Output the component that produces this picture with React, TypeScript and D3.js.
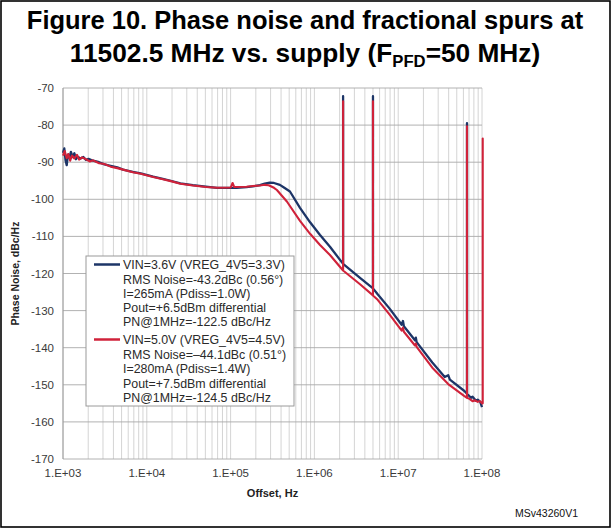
import React, { useEffect } from "react";
import * as d3 from "d3";

// ---------- data ----------
const X_TICKS = [1e3, 1e4, 1e5, 1e6, 1e7, 1e8];
const X_TICK_LABELS = ["1.E+03", "1.E+04", "1.E+05", "1.E+06", "1.E+07", "1.E+08"];
const Y_TICKS = [-70, -80, -90, -100, -110, -120, -130, -140, -150, -160, -170];

const NAVY_FREQ = [
  1000, 1036, 1072, 1108, 1144, 1193, 1243, 1305, 1367, 1430, 1493, 1621, 1750, 1882, 2014,
  2284, 2697, 3120, 3701, 4446, 5213, 6799, 8452, 10151, 11903, 15524, 19290, 25160, 35440,
  50670, 69020, 90650, 118200, 154900, 184800, 223900, 255400, 293500, 329400, 387500,
  437500, 510900, 673300, 888300, 1167000, 1534000, 3503000, 5690000, 7860000, 11000000,
  11400000, 11690000, 15850000, 16240000, 16600000, 25530000, 35920000, 39510000, 41370000,
  61140000, 73900000, 77200000, 84700000, 88900000, 95100000, 100000000,
];
const NAVY_PN = [
  -87.5, -86.3, -89.5, -90.8, -88.0, -88.8, -87.2, -88.6, -87.6, -89.2, -88.5, -89.0, -88.6,
  -89.4, -89.1, -89.6, -90.0, -90.6, -91.0, -91.4, -92.0, -92.6, -93.0, -93.5, -93.9, -94.5,
  -95.0, -95.7, -96.2, -96.6, -96.9, -96.9, -96.9, -96.7, -96.5, -96.2, -95.8, -95.5, -95.6,
  -96.1, -96.9, -97.9, -102.3, -106.2, -109.6, -112.8, -121.2, -125.6, -129.4, -133.8,
  -132.8, -134.2, -138.0, -137.3, -138.5, -144.0, -147.9, -147.4, -148.6, -151.6, -153.5,
  -153.2, -154.3, -154.0, -154.6, -156.0,
];

const RED_FREQ = [
  1000, 1048, 1108, 1157, 1218, 1280, 1367, 1467, 1557, 1685, 1882, 2080, 2284, 2697, 3120,
  3701, 4446, 5213, 6799, 8452, 10151, 11903, 15524, 19290, 25160, 35440, 50670, 69020,
  100500, 105600, 110600, 154900, 184800, 223900, 255400, 284600, 329400, 356700, 469300,
  673300, 888300, 1167000, 1534000, 3503000, 5690000, 7860000, 11000000, 11400000, 11690000,
  15850000, 16240000, 16600000, 25530000, 39510000, 61140000, 70900000, 77000000, 82700000,
  88900000, 94300000, 100000000,
];
const RED_PN = [
  -88.2, -87.0, -88.9, -87.8, -89.6, -88.2, -89.0, -88.0, -89.3, -88.7, -89.2, -89.8, -89.5,
  -90.3, -90.5, -91.2, -91.6, -92.0, -92.7, -93.1, -93.6, -94.0, -94.6, -95.1, -95.8, -96.3,
  -96.7, -96.9, -96.8, -95.6, -96.7, -96.6, -96.4, -96.3, -96.1, -96.2, -96.9, -97.5, -100.6,
  -105.8, -109.3, -112.3, -115.0, -122.9, -127.1, -131.0, -135.4, -134.6, -135.7, -139.4,
  -138.9, -139.8, -145.4, -149.8, -153.0, -153.8, -154.4, -154.2, -154.6, -154.4, -155.0,
];

// fractional / PFD spurs
const SPUR_FREQ = [2200000, 5000000, 66200000];
const NAVY_SPUR_BASE = [-117.4, -124.0, -152.4];
const NAVY_SPUR_TOP = [-72.2, -72.2, -79.5];
const RED_SPUR_BASE = [-119.2, -125.9, -153.5];
const RED_SPUR_TOP = [-73.6, -73.6, -80.3];
const RED_EXTRA_SPUR_FREQ = [102000000];
const RED_EXTRA_SPUR_BASE = [-155.0];
const RED_EXTRA_SPUR_TOP = [-83.6];

const LEGEND_NAVY = [
  "VIN=3.6V (VREG_4V5=3.3V)",
  "RMS Noise=-43.2dBc (0.56°)",
  "I=265mA (Pdiss=1.0W)",
  "Pout=+6.5dBm differential",
  "PN@1MHz=-122.5 dBc/Hz",
];
const LEGEND_RED = [
  "VIN=5.0V (VREG_4V5=4.5V)",
  "RMS Noise=–44.1dBc (0.51°)",
  "I=280mA (Pdiss=1.4W)",
  "Pout=+7.5dBm differential",
  "PN@1MHz=-124.5 dBc/Hz",
];

const NAVY = "#1d3567";
const RED = "#d0223a";
const FONT = "'Liberation Sans', Arial, Helvetica, sans-serif";

type Pt = [number, number];

function buildSeries(
  freq: number[],
  pn: number[],
  sf: number[],
  base: number[],
  top: number[]
): Pt[] {
  const pts: Pt[] = freq.map((f, i) => [f, pn[i]] as Pt);
  sf.forEach((f, i) => {
    pts.push([f, base[i]], [f, top[i]], [f, base[i]]);
  });
  return pts
    .map((p, i) => ({ p, i }))
    .sort((a, b) => a.p[0] - b.p[0] || a.i - b.i)
    .map((o) => o.p);
}

export default function App() {
  useEffect(() => {
    document.body.style.margin = "0";
  }, []);

  const W = 611;
  const H = 528;
  const left = 63;
  const right = 482;
  const top = 88;
  const bottom = 459;

  const x = d3.scaleLog().domain([1e3, 1e8]).range([left, right]);
  const y = d3.scaleLinear().domain([-170, -70]).range([bottom, top]);

  const minorX: number[] = [];
  for (let k = 3; k < 8; k++) {
    for (let m = 1; m <= 9; m++) minorX.push(m * Math.pow(10, k));
  }
  minorX.push(1e8);

  const navy = buildSeries(NAVY_FREQ, NAVY_PN, SPUR_FREQ, NAVY_SPUR_BASE, NAVY_SPUR_TOP);
  const red = buildSeries(
    RED_FREQ,
    RED_PN,
    SPUR_FREQ.concat(RED_EXTRA_SPUR_FREQ),
    RED_SPUR_BASE.concat(RED_EXTRA_SPUR_BASE),
    RED_SPUR_TOP.concat(RED_EXTRA_SPUR_TOP)
  );

  const line = d3
    .line<Pt>()
    .x((d) => x(d[0]))
    .y((d) => y(d[1]));

  const legX = 86;
  const legY = 256;
  const legW = 208;
  const legH = 150;
  const rowY1 = [264.5, 279, 293, 307.5, 321.5];
  const rowY2 = [339.5, 354, 368.5, 383, 397.5];

  return (
    <svg
      width={W}
      height={H}
      viewBox={`0 0 ${W} ${H}`}
      style={{ display: "block", position: "absolute", left: 0, top: 0, background: "#fff" }}
      fontFamily={FONT}
    >
      <rect x={0} y={0} width={W} height={H} fill="#fff" />
      <rect x={1} y={1} width={W - 2} height={H - 2} fill="none" stroke="#000" strokeWidth={1.6} />

      {/* title */}
      <g transform="translate(305,29) scale(0.98,1)">
        <text x={0} y={0} textAnchor="middle" fontSize={26} fontWeight="bold" fill="#000">
          Figure 10. Phase noise and fractional spurs at
        </text>
      </g>
      <g transform="translate(305,62) scale(1.01,1)">
        <text x={0} y={0} textAnchor="middle" fontSize={26} fontWeight="bold" fill="#000">
          11502.5 MHz vs. supply (F
          <tspan fontSize={16.5} dy={5}>PFD</tspan>
          <tspan dy={-5}>=50 MHz)</tspan>
        </text>
      </g>

      {/* gridlines */}
      <g>
        {minorX.map((v, i) => (
          <line
            key={"vx" + i}
            x1={x(v)}
            x2={x(v)}
            y1={top}
            y2={bottom}
            stroke="#cfcfcf"
            strokeWidth={0.9}
          />
        ))}
        {Y_TICKS.map((v) => (
          <line
            key={"hy" + v}
            x1={left}
            x2={right}
            y1={y(v)}
            y2={y(v)}
            stroke="#a9a9a9"
            strokeWidth={0.9}
          />
        ))}
        <line x1={left} x2={left} y1={top} y2={bottom} stroke="#9a9a9a" strokeWidth={1} />
      </g>

      {/* y tick labels */}
      {Y_TICKS.map((v) => (
        <text
          key={"yl" + v}
          x={54}
          y={y(v) + 4}
          textAnchor="end"
          fontSize={11.5}
          fill="#3a3a3a"
        >
          {v}
        </text>
      ))}

      {/* x tick labels */}
      {X_TICKS.map((v, i) => (
        <text key={"xl" + v} x={x(v)} y={477} textAnchor="middle" fontSize={11.5} fill="#3a3a3a">
          {X_TICK_LABELS[i]}
        </text>
      ))}

      {/* axis titles */}
      <text
        transform={`translate(19, ${(top + bottom) / 2}) rotate(-90)`}
        textAnchor="middle"
        fontSize={10.5}
        fontWeight="bold"
        fill="#222"
      >
        Phase Noise, dBc/Hz
      </text>
      <text x={(left + right) / 2} y={497} textAnchor="middle" fontSize={11} fontWeight="bold" fill="#222">
        Offset, Hz
      </text>
      <text x={578} y={517} textAnchor="end" fontSize={10.5} fill="#111">
        MSv43260V1
      </text>

      {/* series */}
      <path d={line(navy) || ""} fill="none" stroke={NAVY} strokeWidth={2.3} strokeLinejoin="round" />
      <path d={line(red) || ""} fill="none" stroke={RED} strokeWidth={2.1} strokeLinejoin="round" />

      {/* legend */}
      <rect x={legX} y={legY} width={legW} height={legH} fill="#fff" stroke="#9a9a9a" strokeWidth={1} />
      <line x1={94} x2={120} y1={rowY1[0]} y2={rowY1[0]} stroke={NAVY} strokeWidth={2.5} />
      <line x1={94} x2={120} y1={rowY2[0]} y2={rowY2[0]} stroke={RED} strokeWidth={2.5} />
      {LEGEND_NAVY.map((t, i) => (
        <text key={"ln" + i} x={123} y={rowY1[i] + 4.5} fontSize={12.4} fill="#2a2a2a">
          {t}
        </text>
      ))}
      {LEGEND_RED.map((t, i) => (
        <text key={"lr" + i} x={123} y={rowY2[i] + 4.5} fontSize={12.4} fill="#2a2a2a">
          {t}
        </text>
      ))}
    </svg>
  );
}
